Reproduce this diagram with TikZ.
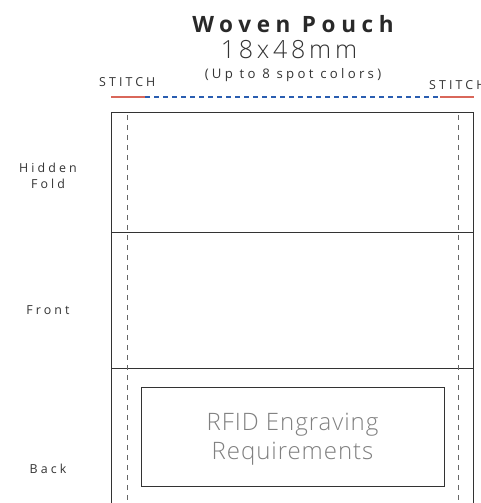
\documentclass[tikz,border=0pt]{standalone}
\usepackage{fontspec}
\setmainfont{Open Sans}
\IfFontExistsTF{Open Sans Light}{\newfontfamily\lightfont[LetterSpace=4]{Open Sans Light}}{\newfontfamily\lightfont[LetterSpace=4]{Open Sans}}
\newfontfamily\spacedfont[LetterSpace=25]{Open Sans}
\newfontfamily\spacedbold[LetterSpace=25]{Open Sans Bold}
\IfFontExistsTF{Open Sans Light}{\newfontfamily\spacedlight[LetterSpace=15]{Open Sans Light}}{\newfontfamily\spacedlight[LetterSpace=15]{Open Sans}}
\definecolor{txt}{HTML}{333333}
\definecolor{edge}{HTML}{333333}
\definecolor{stitchred}{HTML}{D9675A}
\definecolor{stitchblue}{HTML}{2A5DB0}
\definecolor{fold}{HTML}{666666}
\definecolor{rfid}{HTML}{808080}
\tikzset{
  lbl/.style={anchor=base, inner sep=0pt, text=txt, font=\spacedfont\fontsize{12.4}{14}\selectfont},
  outline/.style={draw=edge, line width=0.9pt},
  seam/.style={draw=fold, line width=0.6pt, dash pattern=on 5pt off 5pt},
  redline/.style={draw=stitchred, line width=2pt},
  blueline/.style={draw=stitchblue, line width=2pt, dash pattern=on 5pt off 4pt},
}
\begin{document}
\begin{tikzpicture}[x=1pt,y=-1pt]
\useasboundingbox (0,0) rectangle (480,503);
\clip (0,0) rectangle (480,503);
% titles
\node[anchor=base, inner sep=0pt, text=txt!80!black, font=\spacedbold\fontsize{22.5}{26}\selectfont] (title) at (293,33) {Woven Pouch};
\node[anchor=base, inner sep=0pt, text=txt, font=\spacedlight\fontsize{25}{28}\selectfont] (size) at (289,59) {18x48mm};
\node[anchor=base, inner sep=0pt, text=txt, font=\spacedfont\fontsize{13.2}{15}\selectfont] (colors) at (293,78) {(Up to 8 spot colors)};
\node[lbl, anchor=base west] (stitchL) at (99,86) {STITCH};
\node[lbl, anchor=base west] (stitchR) at (429,89) {STITCH};
% stitch line
\coordinate (sA) at (111,97);
\coordinate (sB) at (145,97);
\coordinate (sC) at (440,97);
\coordinate (sD) at (474,97);
\draw[blueline] (sB) -- (sC);
\draw[redline] (sA) -- (sB);
\draw[redline] (sC) -- (sD);
% pouch outline
\coordinate (tl) at (111,112);
\coordinate (tr) at (473,112);
\coordinate (bl) at (111,510);
\coordinate (br) at (473,510);
\coordinate (d1l) at (111,232);
\coordinate (d1r) at (473,232);
\coordinate (d2l) at (111,368);
\coordinate (d2r) at (473,368);
\draw[outline] (bl) -- (tl) -- (tr) -- (br);
\draw[outline] (d1l) -- (d1r);
\draw[outline] (d2l) -- (d2r);
% seams
\coordinate (s1t) at (127,115);
\coordinate (s1b) at (127,510);
\coordinate (s2t) at (458,115);
\coordinate (s2b) at (458,510);
\draw[seam] (s1t) -- (s1b);
\draw[seam] (s2t) -- (s2b);
% side labels
\node[lbl] (hidden) at (48,172) {Hidden};
\node[lbl] (foldlbl) at (48,188) {Fold};
\node[lbl] (front) at (48,314) {Front};
\node[lbl] (back) at (48,473) {Back};
% RFID box
\node[draw=edge, line width=0.9pt, minimum width=303pt, minimum height=99pt, anchor=north west, inner sep=0pt] (rfidbox) at (141,387) {};
\node[anchor=base, inner sep=0pt, text=rfid, font=\lightfont\fontsize{24}{28}\selectfont] (rfid1) at (292.5,430) {RFID Engraving};
\node[anchor=base, inner sep=0pt, text=rfid, font=\lightfont\fontsize{24}{28}\selectfont] (rfid2) at (292.5,459) {Requirements};
\end{tikzpicture}
\end{document}
